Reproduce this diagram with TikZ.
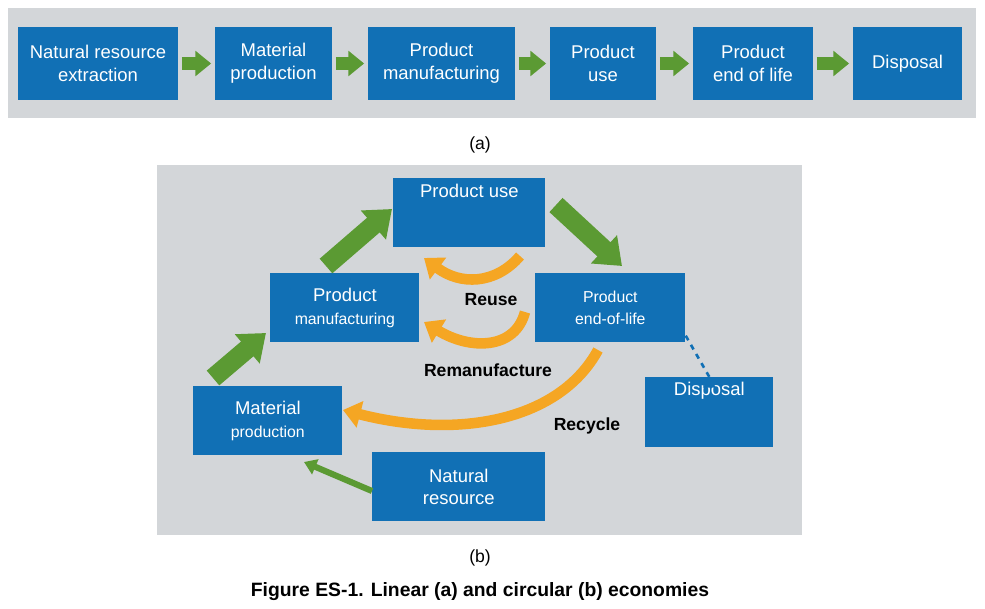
\documentclass[tikz,border=0pt]{standalone}
\usepackage{fontspec}
\setmainfont{Liberation Sans}
\usetikzlibrary{arrows.meta,positioning}
\definecolor{boxblue}{HTML}{1170B5}
\definecolor{panelgray}{HTML}{D3D6D9}
\definecolor{arrgreen}{HTML}{5B9A33}
\definecolor{arrorange}{HTML}{F5A623}
\tikzset{
    box/.style={
        rectangle,
        fill=boxblue,
        text=white,
        align=center,
        font=\fontsize{10.5pt}{13pt}\selectfont,
        inner sep=0pt
    },
    flow/.style={arrgreen, line width=7pt, -{Triangle[width=14pt,length=9pt]}},
    bigflow/.style={arrgreen, line width=11pt, -{Triangle[width=21pt,length=14pt]}},
    loop/.style={arrorange, line width=6pt, -{Triangle[width=15pt,length=10pt]}},
    lbl/.style={font=\bfseries\fontsize{10pt}{12pt}\selectfont},
}
\begin{document}
\begin{tikzpicture}[x=0.02cm, y=-0.02cm]
\useasboundingbox (0,0) rectangle (985,609);

% linear economy
\fill[panelgray] (8,8) rectangle (976,118);
\foreach \n/\xa/\xb/\t in {extr/18/178/{Natural resource\\extraction},
    mat/215/332/{Material\\production},
    man/368/515/{Product\\manufacturing},
    use/550/656/{Product\\use},
    eol/693/813/{Product\\end of life},
    disp/853/962/{Disposal}}
  \node [box, minimum width=(\xb-\xa)*0.02cm, minimum height=73*0.02cm]
    (a-\n) at ({(\xa+\xb)/2},63.5) {\t};
\foreach \a/\b in {extr/mat, mat/man, man/use, use/eol, eol/disp}
  \draw [flow, shorten <=2pt, shorten >=2pt] (a-\a) -- (a-\b);
\node (cap-a) at (480,145) {(a)};

% circular economy
\fill[panelgray] (157,165) rectangle (802,535);
\node [box, minimum width=152*0.02cm, minimum height=69*0.02cm, anchor=north west]
  (b-use) at (393,178) {Product use\\[12pt]};
\node [box, minimum width=149*0.02cm, minimum height=69*0.02cm, anchor=north west]
  (b-man) at (270,273) {Product\\{\fontsize{9pt}{15pt}\selectfont manufacturing}};
\node [box, minimum width=150*0.02cm, minimum height=69*0.02cm, anchor=north west]
  (b-eol) at (535,273) {{\fontsize{9pt}{11pt}\selectfont Product}\\{\fontsize{9pt}{15pt}\selectfont end-of-life}};
\node [box, minimum width=149*0.02cm, minimum height=69*0.02cm, anchor=north west]
  (b-mat) at (193,386) {Material\\{\fontsize{9pt}{15pt}\selectfont production}};
\node [box, minimum width=128*0.02cm, minimum height=70*0.02cm, anchor=north west]
  (b-disp) at (645,377) {Disposal\\[14pt]};
\node [box, minimum width=173*0.02cm, minimum height=69*0.02cm, anchor=north west]
  (b-nat) at (372,452) {Natural\\resource};

\coordinate (g1s) at (213,378);
\coordinate (g1e) at (266,333);
\coordinate (g2s) at (326,266);
\coordinate (g2e) at (392,209);
\coordinate (g3s) at (556,205);
\coordinate (g3e) at (622,266);
\draw [bigflow] (g1s) -- (g1e);
\draw [bigflow] (g2s) -- (g2e);
\draw [bigflow] (g3s) -- (g3e);
\draw [arrgreen, line width=3.5pt, -{Triangle[width=9pt,length=7pt]}]
  (b-nat.west |- 0,491) -- (304,462);

\draw [loop] (520,256) .. controls (495,285) and (460,285) .. (424,258);
\draw [loop] (525,312) .. controls (515,350) and (470,350) .. (424,322);
\draw [loop] (598,350) .. controls (560,420) and (460,440) .. (343,410);
\draw [boxblue, line width=1.5pt, dashed, -{Triangle[width=7pt,length=6pt]}]
  (b-eol.south east) ++(0,4pt) -- (b-disp.north) ++(-0pt,0) ;

\node [lbl] (t-reuse) at (491,300) {Reuse};
\node [lbl] (t-reman) at (488,370) {Remanufacture};
\node [lbl] (t-recy) at (587,426) {Recycle};
\node (cap-b) at (480,558) {(b)};
\node [lbl, font=\bfseries\fontsize{11pt}{13pt}\selectfont] (cap) at (480,592)
  {Figure ES-1. Linear (a) and circular (b) economies};
\end{tikzpicture}
\end{document}
